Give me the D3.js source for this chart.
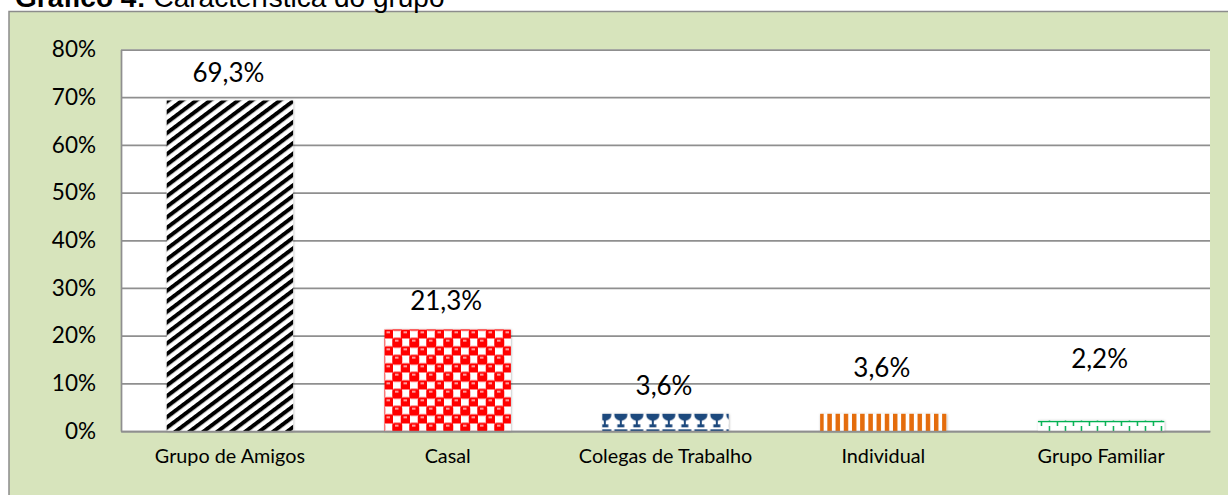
<!DOCTYPE html>
<html>
<head>
<meta charset="utf-8">
<script src="https://cdn.jsdelivr.net/npm/d3@7"></script>
<style>
  body { margin: 0; background: #fff; }
  svg { display: block; }
</style>
</head>
<body>
<div id="chart"></div>
<script>
const categories = ["Grupo de Amigos", "Casal", "Colegas de Trabalho", "Individual", "Grupo Familiar"];
const values = [69.3, 21.3, 3.6, 3.6, 2.2];
const yTicks = [0, 10, 20, 30, 40, 50, 60, 70, 80];

const W = 1228, H = 495;
const margin = { top: 49.5, right: 18, bottom: 64, left: 121 },
      width = W - margin.left - margin.right,
      height = H - margin.top - margin.bottom;

const svg = d3.select("#chart").append("svg")
    .attr("width", W)
    .attr("height", H);

const defs = svg.append("defs");

// diagonal black stripes
const diag = defs.append("pattern").attr("id", "p-diag")
    .attr("patternUnits", "userSpaceOnUse")
    .attr("width", 8.4).attr("height", 8.4)
    .attr("patternTransform", "rotate(53)");
diag.append("rect").attr("width", 8.4).attr("height", 8.4).attr("fill", "#fff");
diag.append("rect").attr("width", 4).attr("height", 8.4).attr("fill", "#000");

// red spheres / checker
const red = defs.append("pattern").attr("id", "p-red")
    .attr("patternUnits", "userSpaceOnUse")
    .attr("width", 17).attr("height", 17);
red.append("rect").attr("width", 17).attr("height", 17).attr("fill", "#fff");
[[0, 0], [8.5, 8.5], [17, 0], [0, 17], [17, 17]].forEach(([px, py]) => {
  red.append("rect")
      .attr("x", px - 0.75).attr("y", py - 0.75)
      .attr("width", 10).attr("height", 10).attr("rx", 2.5)
      .attr("fill", "#ff0000");
  red.append("rect")
      .attr("x", px + 2).attr("y", py + 1.5)
      .attr("width", 3.5).attr("height", 1.5)
      .attr("fill", "#ffd0d0");
});

const svgG = svg.append("g")
    .attr("transform", "translate(" + margin.left + "," + margin.top + ")");

const x = d3.scaleBand()
    .range([0, width])
    .paddingInner(0.42)
    .paddingOuter(0.21)
    .domain(categories);

const y = d3.scaleLinear()
    .range([height, 0])
    .domain([0, 80]);

// background box
svg.insert("rect", "defs")
    .attr("x", 9).attr("y", 11.5)
    .attr("width", 1300).attr("height", 600)
    .attr("fill", "#d7e4bc")
    .attr("stroke", "#8c8c8c")
    .attr("stroke-width", 1.5);

// title
const title = svg.append("text")
    .attr("x", 15).attr("y", 7)
    .style("font-family", "'Liberation Sans', Arial, sans-serif")
    .style("font-size", "28px")
    .attr("fill", "#000");
title.append("tspan").attr("font-weight", "bold").text("Gráfico 4:");
title.append("tspan").text(" Característica do grupo");

// plot area
svgG.append("rect")
    .attr("width", width).attr("height", height)
    .attr("fill", "#fff");

// gridlines
svgG.append("g")
    .attr("class", "grid")
    .call(d3.axisLeft(y).tickValues(yTicks).tickSize(-width).tickFormat(""))
    .call(g => g.select(".domain").remove())
    .call(g => g.selectAll("line").attr("stroke", "#8f8f8f").attr("stroke-width", 1.75));

// patterns that start at the bar top
const barX = i => x(categories[i]);
const barY = i => y(values[i]);

const blue = defs.append("pattern").attr("id", "p-blue")
    .attr("patternUnits", "userSpaceOnUse")
    .attr("x", margin.left + barX(2) + 1.5).attr("y", margin.top + barY(2))
    .attr("width", 16).attr("height", 17);
blue.append("rect").attr("width", 16).attr("height", 17).attr("fill", "#fff");
blue.append("path")
    .attr("d", "M1.5,0 H14.5 V3 Q14.5,6.5 9,8.5 V12 H11.5 V15 H4.5 V12 H7 V8.5 Q1.5,6.5 1.5,3 Z")
    .attr("fill", "#1f497d");

const orange = defs.append("pattern").attr("id", "p-orange")
    .attr("patternUnits", "userSpaceOnUse")
    .attr("x", margin.left + barX(3) + 1).attr("y", 0)
    .attr("width", 8.2).attr("height", 10);
orange.append("rect").attr("width", 8.2).attr("height", 10).attr("fill", "#fff");
orange.append("rect").attr("width", 4.5).attr("height", 10).attr("fill", "#e46c0a");

const green = defs.append("pattern").attr("id", "p-green")
    .attr("patternUnits", "userSpaceOnUse")
    .attr("x", margin.left + barX(4) + 1).attr("y", margin.top + barY(4))
    .attr("width", 16).attr("height", 11);
green.append("rect").attr("width", 16).attr("height", 11).attr("fill", "#fff");
green.append("path")
    .attr("d", "M0,6.5 H16 M1.5,0 V6.5 M9.5,6.5 V11")
    .attr("stroke", "#00b050").attr("stroke-width", 1.5).attr("fill", "none");

const shadow = defs.append("filter").attr("id", "shadow")
    .attr("x", "-20%").attr("y", "-20%").attr("width", "140%").attr("height", "140%");
shadow.append("feDropShadow")
    .attr("dx", 0.5).attr("dy", 0.5).attr("stdDeviation", 1.2)
    .attr("flood-color", "#000").attr("flood-opacity", 0.3);

const fills = ["url(#p-diag)", "url(#p-red)", "url(#p-blue)", "url(#p-orange)", "url(#p-green)"];
const lift = [19, 19, 19, 37, 53];

svgG.selectAll(".bar")
  .data(values)
  .enter().append("rect")
    .attr("class", "bar")
    .attr("x", (d, i) => x(categories[i]))
    .attr("width", x.bandwidth())
    .attr("y", d => y(d))
    .attr("height", d => height - y(d))
    .attr("fill", (d, i) => fills[i])
    .attr("filter", "url(#shadow)");

// value labels
svgG.selectAll(".label")
  .data(values)
  .enter().append("text")
    .attr("class", "label")
    .attr("x", (d, i) => x(categories[i]) + x.bandwidth() / 2 - 1.5)
    .attr("y", (d, i) => y(d) - lift[i])
    .style("text-anchor", "middle")
    .style("font-family", "Lato, 'Open Sans', sans-serif")
    .style("font-size", "26px")
    .attr("fill", "#000")
    .text(d => d.toFixed(1).replace(".", ",") + "%");

// y axis
svgG.append("g")
    .attr("class", "y axis")
    .call(d3.axisLeft(y).tickValues(yTicks).tickSize(0).tickSizeOuter(0).tickPadding(25).tickFormat(d => d + "%"))
    .call(g => g.select(".domain").attr("stroke", "#8f8f8f").attr("stroke-width", 1.75))
    .call(g => g.selectAll("text")
        .style("font-family", "Lato, 'Open Sans', sans-serif")
        .style("font-size", "22.5px")
        .attr("fill", "#000"));

// x axis
svgG.append("g")
    .attr("class", "x axis")
    .attr("transform", "translate(0," + height + ")")
    .call(d3.axisBottom(x).tickSize(0).tickSizeOuter(0).tickPadding(17.5))
    .call(g => g.select(".domain").attr("stroke", "#8f8f8f").attr("stroke-width", 1.75))
    .call(g => g.selectAll("text")
        .style("font-family", "Lato, 'Open Sans', sans-serif")
        .style("font-size", "19.8px")
        .attr("fill", "#000"));
</script>
</body>
</html>
